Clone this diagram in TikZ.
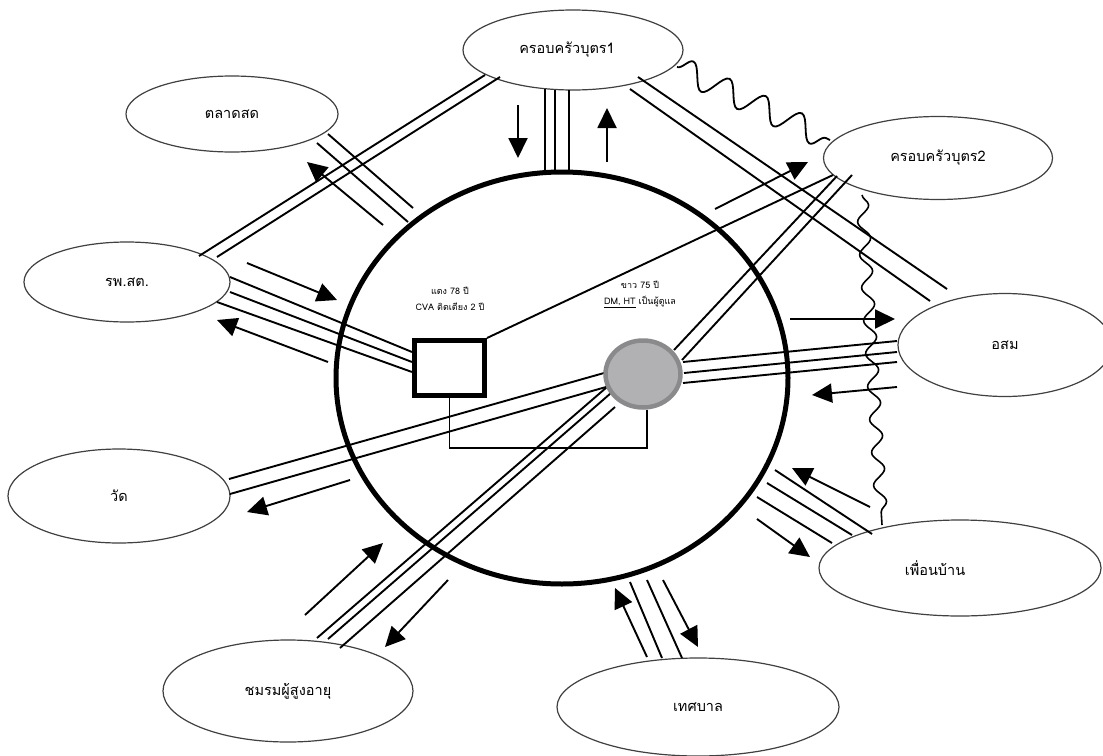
\documentclass[tikz,border=0pt]{standalone}
\usepackage{fontspec}
\newfontfamily\thai[Script=Thai]{Loma}
\usetikzlibrary{shapes.geometric,arrows.meta,calc,decorations.pathmorphing}
\pgfdeclarelayer{bg}
\pgfdeclarelayer{front}
\pgfsetlayers{bg,main,front}
\definecolor{gfill}{HTML}{B1B1B4}
\definecolor{gedge}{HTML}{8A8A8C}
\begin{document}
\begin{tikzpicture}[x=1pt,y=-1pt,
  ell/.style={ellipse, draw=black!75, line width=1.2pt, inner sep=0pt, font=\thai\fontsize{14.5}{18}\selectfont},
  smalltxt/.style={inner sep=0pt, align=center, font=\thai\fontsize{9}{16}\selectfont},
  ln/.style={line width=1.9pt},
  arr/.style={line width=1.9pt, -{Triangle[length=20pt,width=19pt]}},
  wave/.style={line width=1.8pt, decorate, decoration={snake, amplitude=12pt, segment length=40pt}},
  wavev/.style={line width=1.6pt, decorate, decoration={snake, amplitude=6pt, segment length=33pt}}]
\begin{pgfonlayer}{bg}
\fill[white] (0,0) rectangle (1103,755);
\end{pgfonlayer}
\useasboundingbox (0,0) rectangle (1103,755);
\clip (0,0) rectangle (1103,755);

% outer nodes
\node[ell, minimum width=220pt, minimum height=80pt] (k1) at (573,50) {\hspace*{-12pt}ครอบครัวบุตร1};
\node[ell, minimum width=212pt, minimum height=76pt] (tl) at (232,114) {ตลาดสด};
\node[ell, minimum width=206pt, minimum height=80pt] (rp) at (127,282) {รพ.สต.};
\node[ell, minimum width=222pt, minimum height=94pt] (wd) at (119,496) {วัด};
\node[ell, minimum width=250pt, minimum height=102pt] (cm) at (288,691) {ชมรมผู้สูงอายุ};
\node[ell, minimum width=282pt, minimum height=98pt] (tb) at (698,707) {เทศบาล};
\node[ell, minimum width=282pt, minimum height=96pt] (pb) at (960,568) {\hspace*{-50pt}เพื่อนบ้าน};
\node[ell, minimum width=214pt, minimum height=103pt] (os) at (1005,345) {อสม};
\node[ell, minimum width=229pt, minimum height=83pt] (k2) at (938,158) {ครอบครัวบุตร2};

% central circle
\node[ellipse, draw, line width=5pt, minimum width=452pt, minimum height=412pt, inner sep=0pt] (C) at (562,378) {};
\begin{pgfonlayer}{front}
\node[draw, line width=5pt, fill=white, minimum width=70pt, minimum height=55pt, inner sep=0pt] (R) at (449.5,368) {};
\node[ellipse, draw=gedge, fill=gfill, line width=4.5pt, minimum width=75pt, minimum height=67pt, inner sep=0pt] (G) at (643,374) {};
\end{pgfonlayer}
\node[smalltxt] (t1) at (450,299) {แดง 78 ปี\\CVA ติดเตียง 2 ปี};
\node[smalltxt] (t2) at (640,294) {ขาว 75 ปี\\\underline{DM, HT} เป็นผู้ดูแล};

% k1 - C triple
\draw[ln] ($(k1)+(-28,39)$) -- ($(C)+(-17,-205)$);
\draw[ln] ($(k1)+(-18,39.5)$) -- ($(C)+(-7,-206)$);
\draw[ln] ($(k1)+(-4,40)$) -- ($(C)+(7,-206)$);
\draw[arr] (518,105) -- (518,158);
\draw[arr] (607,162) -- (607,108);
% rp - k1 double
\draw[ln] ($(rp)+(72,-26)$) -- ($(k1)+(-88,25)$);
\draw[ln] ($(rp)+(90,-25)$) -- ($(k1)+(-73,27)$);
% k1 - os double
\draw[ln] ($(k1)+(65,27)$) -- ($(os)+(-58,-56)$);
\draw[ln] ($(k1)+(57,39)$) -- ($(os)+(-75,-44)$);
% k1 - k2 wave
\draw[wave] ($(k1)+(104,17)$) -- ($(k2)+(-108,-18)$);
% k2 - R single, k2 - G double
\draw[ln] ($(k2)+(-105,17)$) -- ($(R)+(37.5,-30)$);
\draw[ln] ($(k2)+(-101,18)$) -- ($(G)+(31,-24)$);
\draw[ln] ($(k2)+(-86,17)$) -- ($(G)+(39,-14)$);
\draw[arr] (715,209) -- (808,162);
% k2 - pb wave
\draw[wavev] ($(k2)+(-76,37)$) -- ($(pb)+(-78,-43)$);
% G - os triple
\draw[arr] (790,319) -- (895,319);
\draw[ln] ($(G)+(40,-12)$) -- ($(os)+(-108,-4)$);
\draw[ln] ($(G)+(41,-1)$) -- ($(os)+(-108,7)$);
\draw[ln] ($(G)+(40,9)$) -- ($(os)+(-108,17)$);
\draw[arr] (897,387) -- (812,395);
% C - pb triple
\draw[ln] ($(C)+(213,92)$) -- ($(pb)+(-88,-34)$);
\draw[ln] ($(C)+(205,105)$) -- ($(pb)+(-108,-33)$);
\draw[ln] ($(C)+(195,119)$) -- ($(pb)+(-128,-25)$);
\draw[arr] (870,507) -- (792,468);
\draw[arr] (757,519) -- (810,557);
% C - tb double
\draw[ln] ($(C)+(68,204)$) -- ($(tb)+(-36,-49)$);
\draw[ln] ($(C)+(85,202)$) -- ($(tb)+(-16,-49)$);
\draw[arr] (647,657) -- (615,588);
\draw[arr] (663,580) -- (698,647);
% G - cm triple
\draw[ln] ($(G)+(-36,13)$) -- ($(cm)+(29,-53)$);
\draw[ln] ($(G)+(-32,19)$) -- ($(cm)+(40,-52)$);
\draw[ln] ($(G)+(-28,33)$) -- ($(cm)+(52,-43)$);
\draw[arr] (305,615) -- (383,543);
\draw[arr] (448,580) -- (385,647);
% G - wd double
\draw[ln] ($(G)+(-39,-1)$) -- ($(wd)+(110,-17)$);
\draw[ln] ($(G)+(-37,13)$) -- ($(wd)+(111,-2)$);
\draw[arr] (350,480) -- (247,512);
% rp - R triple
\draw[ln] ($(rp)+(103,-5)$) -- ($(R)+(-37.5,-16)$);
\draw[ln] ($(rp)+(103,10)$) -- ($(R)+(-37.5,-6)$);
\draw[ln] ($(rp)+(90,20)$) -- ($(R)+(-37.5,4)$);
\draw[arr] (247,263) -- (337,300);
\draw[arr] (328,362) -- (217,320);
% tl - C double
\draw[ln] ($(tl)+(96,20)$) -- ($(C)+(-149,-170)$);
\draw[ln] ($(tl)+(85,29)$) -- ($(C)+(-154,-156)$);
\draw[arr] (383,225) -- (307,162);
% R - G bracket
\draw[line width=1.5pt] (R.south) -- ++(0,50) -| ($(G.south)+(4,0)$);
\end{tikzpicture}
\end{document}
